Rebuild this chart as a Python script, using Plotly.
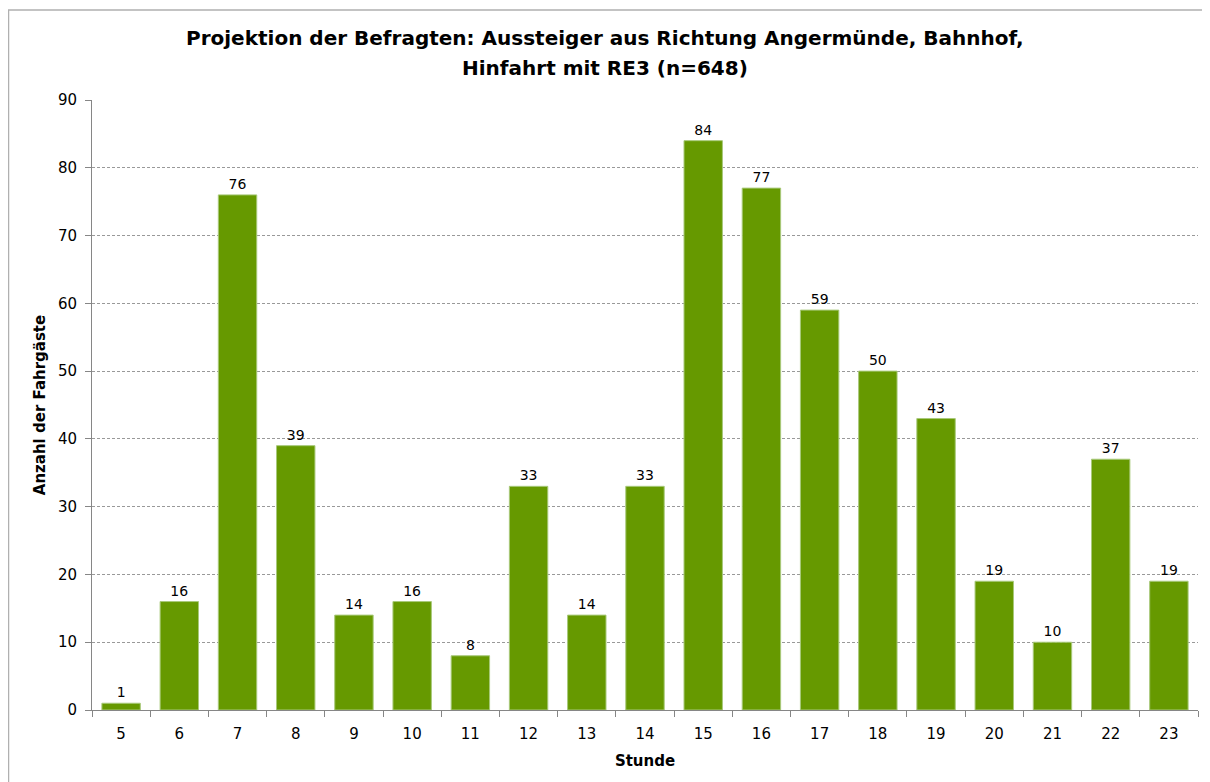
import plotly.graph_objects as go

hours = ["5", "6", "7", "8", "9", "10", "11", "12", "13", "14", "15", "16", "17", "18", "19", "20", "21", "22", "23"]
counts = [1, 16, 76, 39, 14, 16, 8, 33, 14, 33, 84, 77, 59, 50, 43, 19, 10, 37, 19]

title_line1 = "Projektion der Befragten: Aussteiger aus Richtung Angermünde, Bahnhof,"
title_line2 = "Hinfahrt mit RE3 (n=648)"
x_title = "Stunde"
y_title = "Anzahl der Fahrgäste"

font_family = "DejaVu Sans, Verdana, sans-serif"

fig = go.Figure(go.Bar(
    x=hours, y=counts,
    marker=dict(color="#669900", line=dict(color="#a8c97a", width=1)),
    width=0.66,
    text=[str(c) for c in counts],
    textposition="outside",
    textfont=dict(size=14, color="#000000", family=font_family),
    cliponaxis=False,
))

# page body has an 8px margin, so figure is offset by 8px
W, H = 1202, 774
L, R, T, B = 84, 12, 92, 72
pw = W - L - R
ph = H - T - B

def px_to_paper_x(px):
    return (px - L) / pw

def px_to_paper_y(py):
    return (H - B - py) / ph

title_center_x = px_to_paper_x(597)

fig.update_layout(
    width=W, height=H,
    margin=dict(l=L, r=R, t=T, b=B),
    paper_bgcolor="white", plot_bgcolor="white",
    font=dict(family=font_family, size=15, color="#000000"),
    showlegend=False,
    xaxis=dict(
        type="category",
        title=dict(text=f"<b>{x_title}</b>", standoff=13, font=dict(size=15)),
        showline=True, linecolor="#868686", linewidth=1,
        ticks="outside", ticklen=6, tickcolor="#868686",
        tickson="boundaries", showgrid=False,
        tickfont=dict(size=15),
        ticklabelstandoff=10,
    ),
    yaxis=dict(
        range=[0, 90], dtick=10,
        title=dict(text=f"<b>{y_title}</b>", standoff=8, font=dict(size=15)),
        showline=True, linecolor="#868686", linewidth=1,
        ticks="outside", ticklen=6, tickcolor="#868686",
        showgrid=True, gridcolor="#999999", griddash="3px,2px", gridwidth=1,
        zeroline=False,
        tickfont=dict(size=15),
        ticklabelstandoff=5,
    ),
    annotations=[
        dict(text=f"<b>{title_line1}</b>", xref="paper", yref="paper",
             x=title_center_x, y=px_to_paper_y(30), xanchor="center", yanchor="middle",
             showarrow=False, font=dict(size=20, family=font_family)),
        dict(text=f"<b>{title_line2}</b>", xref="paper", yref="paper",
             x=title_center_x, y=px_to_paper_y(60), xanchor="center", yanchor="middle",
             showarrow=False, font=dict(size=20, family=font_family)),
    ],
    shapes=[dict(
        type="rect", xref="paper", yref="paper",
        x0=px_to_paper_x(0.5), x1=px_to_paper_x(1199.5),
        y0=px_to_paper_y(H + 5), y1=px_to_paper_y(2),
        line=dict(color="#b0b0b0", width=1.5), fillcolor="rgba(0,0,0,0)",
        layer="below",
    )],
)

fig.write_html("out.html")
